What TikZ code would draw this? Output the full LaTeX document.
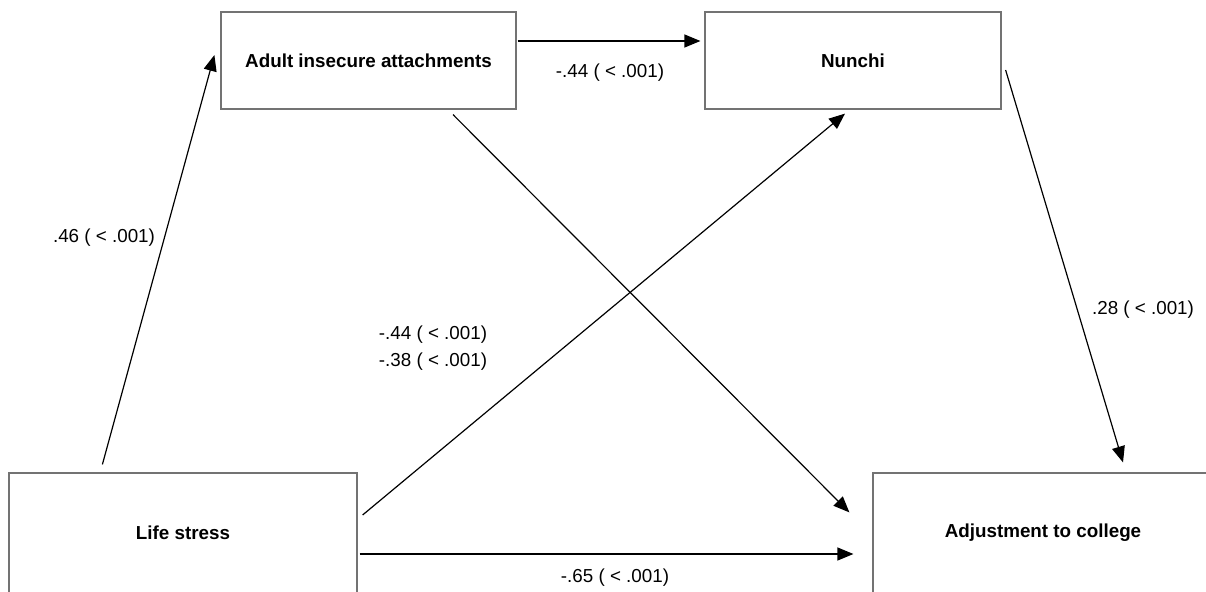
\documentclass[tikz,border=0pt]{standalone}
\usepackage{fontspec}
\setmainfont{Liberation Sans}
\usetikzlibrary{arrows.meta}
\begin{document}
\begin{tikzpicture}[x=1pt,y=-1pt,
  box/.style={draw=black!55,line width=1.2pt,fill=white,rectangle,inner sep=0pt,
    font=\fontsize{18.8}{22}\selectfont\bfseries},
  arr/.style={draw=black,line width=1.2pt,-{Triangle[length=16pt,width=13pt]}},
  lab/.style={font=\fontsize{18.8}{27}\selectfont,inner sep=0pt,align=center}]
\clip (0,0) rectangle (1206,591);
\fill[white] (0,0) rectangle (1206,591);
\node[box,minimum width=348pt,minimum height=120pt] (ls) at (183,533) {Life stress};
\node[box,minimum width=340pt,minimum height=120pt] (adj) at (1043,533) {Adjustment to college};
\node[box,minimum width=295pt,minimum height=97pt] (ad) at (368.5,60.5) {Adult insecure attachments};
\node[box,minimum width=296pt,minimum height=97pt] (nu) at (853,60.5) {Nunchi};
\draw[arr] ([xshift=94pt,yshift=8pt]ls.north west) -- ([xshift=-6pt,yshift=5.5pt]ad.west);
\draw[arr] ([xshift=1pt,yshift=19.5pt]ad.east) -- ([xshift=-4pt,yshift=19.5pt]nu.west);
\draw[arr] ([xshift=84.5pt,yshift=-5pt]ad.south) -- ([xshift=-23pt,yshift=-40pt]adj.north west);
\draw[arr] ([xshift=5pt,yshift=18pt]ls.east) -- ([xshift=-8pt,yshift=-4pt]nu.south);
\draw[arr] ([xshift=2pt,yshift=-21pt]ls.east) -- ([xshift=-19pt,yshift=-21pt]adj.west);
\draw[arr] ([xshift=4pt,yshift=-9.5pt]nu.east) -- ([xshift=80pt,yshift=10pt]adj.north);
\node[lab] (l1) at (104,238) {.46 ( < .001)};
\node[lab] (l2) at (610,73) {-.44 ( < .001)};
\node[lab] (l3) at (433,348.5) {-.44 ( < .001)\\-.38 ( < .001)};
\node[lab] (l4) at (1143,310) {.28 ( < .001)};
\node[lab] (l5) at (615,578) {-.65 ( < .001)};
\end{tikzpicture}
\end{document}
